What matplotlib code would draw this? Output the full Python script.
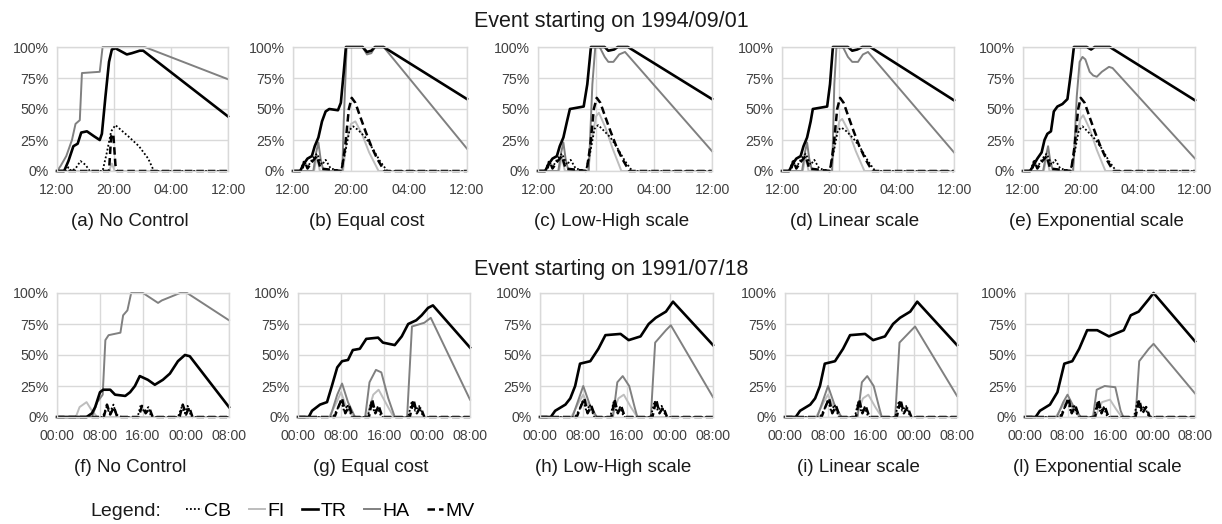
import matplotlib
matplotlib.use("Agg")
import matplotlib.pyplot as plt
from matplotlib.lines import Line2D

plt.rcParams['font.family'] = ['Liberation Sans', 'DejaVu Sans']

# ---- data: (hour since start, percent) pairs ----
# top row: event starting 1994/09/01, 12:00 -> 12:00 (24 h)
top_ticks = [0, 8, 16, 24]
top_labels = ['12:00', '20:00', '04:00', '12:00']
# bottom row: event starting 1991/07/18, 00:00 -> 08:00 (32 h)
bot_ticks = [0, 8, 16, 24, 32]
bot_labels = ['00:00', '08:00', '16:00', '00:00', '08:00']

# (a) No Control
a_cb = [(0, 0), (1.2, 0), (1.6, 3), (2.0, 0), (2.6, 2), (3.3, 8), (4.0, 5), (4.6, 0), (6.4, 0), (7.0, 15),
        (7.6, 32), (8.2, 37), (9.0, 33), (10.0, 28), (11.5, 20), (12.8, 10), (13.6, 0), (24, 0)]
a_fi = [(0, 0), (7.3, 0), (7.7, 6), (8.1, 0), (24, 0)]
a_tr = [(0, 0), (1.0, 0), (1.6, 8), (2.3, 20), (2.9, 22), (3.4, 31), (4.2, 32), (5.2, 28), (6.0, 25), (6.3, 30),
        (6.8, 60), (7.3, 88), (7.7, 98), (8.2, 99), (9.8, 94), (10.5, 95), (11.6, 97), (12.1, 97), (24, 44)]
a_ha = [(0, 0), (0.5, 4), (1.3, 12), (2.1, 25), (2.6, 38), (3.2, 41), (3.5, 79), (6.0, 80), (6.4, 100),
        (12.3, 100), (24, 74)]
a_mv = [(0, 0), (7.3, 0), (7.6, 28), (7.9, 30), (8.2, 5), (8.4, 0), (24, 0)]

# (b) Equal cost
b_cb = [(0, 0), (1.0, 0), (1.5, 8), (2.0, 3), (2.7, 10), (3.3, 14), (4.0, 5), (4.5, 9), (5.2, 2), (6.6, 0),
        (7.2, 15), (7.8, 33), (8.3, 36), (9.0, 33), (10.0, 27), (11.0, 18), (12.0, 8), (13.0, 0), (24, 0)]
b_fi = [(0, 0), (2.9, 0), (3.3, 12), (3.7, 0), (6.9, 0), (7.4, 25), (8.0, 38), (8.6, 40), (9.5, 30),
        (10.5, 15), (11.8, 0), (24, 0)]
b_tr = [(0, 0), (1.0, 0), (1.4, 5), (2.0, 10), (2.6, 12), (3.0, 20), (3.5, 27), (4.0, 40), (4.5, 48),
        (5.0, 50), (6.2, 49), (6.6, 55), (7.0, 80), (7.3, 100), (9.6, 100), (10.2, 96), (10.8, 97),
        (11.3, 100), (12.5, 100), (24, 58)]
b_ha = [(0, 0), (2.8, 0), (3.2, 15), (3.5, 23), (3.8, 10), (4.2, 0), (6.8, 0), (7.0, 40), (7.4, 100),
        (9.6, 100), (10.2, 94), (10.8, 95), (11.3, 100), (12.5, 100), (24, 18)]
b_mv = [(0, 0), (1.2, 0), (1.6, 8), (2.0, 2), (2.7, 8), (3.3, 12), (3.8, 2), (6.7, 0), (7.2, 20), (7.7, 50),
        (8.1, 59), (8.6, 55), (9.2, 45), (10.0, 32), (10.8, 20), (11.6, 10), (12.6, 0), (24, 0)]

# (c) Low-High scale
c_cb = [(0, 0), (1.0, 0), (1.5, 8), (2.0, 3), (2.7, 10), (3.3, 14), (4.0, 5), (4.5, 9), (5.2, 2), (6.6, 0),
        (7.2, 15), (7.8, 34), (8.3, 37), (9.0, 33), (10.0, 27), (11.0, 18), (12.0, 8), (13.0, 0), (24, 0)]
c_fi = [(0, 0), (2.9, 0), (3.3, 12), (3.7, 0), (6.9, 0), (7.4, 25), (8.0, 44), (8.4, 47), (9.3, 35),
        (10.3, 18), (11.5, 0), (24, 0)]
c_tr = [(0, 0), (1.0, 0), (1.4, 5), (2.0, 10), (2.6, 12), (3.0, 20), (3.5, 27), (4.0, 40), (4.4, 50),
        (6.3, 52), (6.8, 70), (7.3, 100), (9.2, 100), (9.7, 97), (10.5, 98), (11.0, 100), (12.4, 100), (24, 58)]
c_ha = [(0, 0), (2.8, 0), (3.2, 15), (3.5, 23), (3.8, 10), (4.2, 0), (7.0, 0), (7.5, 70), (7.9, 100),
        (8.5, 100), (9.2, 92), (9.7, 88), (10.4, 88), (11.2, 94), (12.0, 96), (24, 16)]
c_mv = [(0, 0), (1.2, 0), (1.6, 8), (2.0, 2), (2.7, 8), (3.3, 12), (3.8, 2), (6.7, 0), (7.2, 20), (7.7, 50),
        (8.1, 59), (8.6, 55), (9.2, 45), (10.0, 32), (10.8, 20), (11.6, 10), (12.6, 0), (24, 0)]

# (d) Linear scale
d_cb = [(0, 0), (1.0, 0), (1.5, 8), (2.0, 3), (2.7, 10), (3.3, 14), (4.0, 5), (4.5, 9), (5.2, 2), (6.6, 0),
        (7.2, 15), (7.8, 33), (8.3, 35), (9.0, 32), (10.0, 26), (11.0, 18), (12.0, 8), (13.0, 0), (24, 0)]
d_fi = [(0, 0), (2.9, 0), (3.3, 12), (3.7, 0), (6.9, 0), (7.4, 25), (8.0, 40), (8.4, 42), (9.3, 32),
        (10.3, 16), (11.5, 0), (24, 0)]
d_tr = [(0, 0), (1.0, 0), (1.4, 5), (2.0, 10), (2.6, 12), (3.0, 20), (3.5, 27), (4.0, 40), (4.3, 50),
        (6.3, 52), (6.7, 70), (7.1, 100), (9.2, 100), (9.8, 97), (10.5, 98), (11.2, 100), (12.3, 100), (24, 57)]
d_ha = [(0, 0), (2.8, 0), (3.2, 15), (3.5, 23), (3.8, 10), (4.2, 0), (7.0, 0), (7.3, 70), (7.6, 100),
        (8.5, 100), (9.2, 92), (9.8, 88), (10.6, 88), (11.3, 94), (12.0, 96), (24, 15)]
d_mv = [(0, 0), (1.2, 0), (1.6, 8), (2.0, 2), (2.7, 8), (3.3, 12), (3.8, 2), (6.7, 0), (7.2, 20), (7.7, 50),
        (8.1, 59), (8.6, 55), (9.2, 45), (10.0, 32), (10.8, 20), (11.6, 10), (12.6, 0), (24, 0)]

# (e) Exponential scale
e_cb = [(0, 0), (1.0, 0), (1.5, 8), (2.0, 3), (2.7, 10), (3.3, 14), (4.0, 5), (4.5, 9), (5.2, 2), (6.6, 0),
        (7.2, 15), (7.8, 33), (8.3, 36), (9.0, 32), (10.0, 26), (11.0, 18), (12.0, 8), (13.0, 0), (24, 0)]
e_fi = [(0, 0), (2.9, 0), (3.3, 12), (3.7, 0), (6.9, 0), (7.4, 25), (8.0, 42), (8.4, 45), (9.3, 34),
        (10.3, 17), (11.5, 0), (24, 0)]
e_tr = [(0, 0), (1.0, 0), (1.5, 5), (2.0, 10), (2.6, 15), (3.0, 25), (3.4, 30), (3.9, 32), (4.3, 48),
        (4.8, 52), (5.5, 54), (6.2, 58), (6.7, 80), (7.1, 100), (8.9, 100), (9.5, 98), (10.0, 100),
        (12.1, 100), (24, 57)]
e_ha = [(0, 0), (2.8, 0), (3.2, 12), (3.5, 20), (3.8, 8), (4.2, 0), (7.0, 0), (7.5, 60), (7.9, 88),
        (8.3, 92), (8.7, 90), (9.3, 80), (9.8, 77), (10.3, 76), (11.0, 80), (12.0, 84), (12.5, 83), (24, 10)]
e_mv = [(0, 0), (1.2, 0), (1.6, 8), (2.0, 2), (2.7, 8), (3.3, 12), (3.8, 2), (6.7, 0), (7.2, 20), (7.7, 50),
        (8.05, 59), (8.6, 55), (9.2, 45), (10.0, 32), (10.8, 20), (11.6, 10), (12.6, 0), (24, 0)]

# (f) No Control
f_cb = [(0, 0), (8.5, 0), (9.2, 8), (9.8, 3), (10.5, 10), (11.0, 2), (12.0, 0), (15.0, 0), (15.6, 10),
        (16.2, 4), (17.0, 8), (17.5, 0), (22.5, 0), (23.2, 8), (23.8, 3), (24.3, 9), (25.0, 0), (32, 0)]
f_fi = [(0, 0), (3.5, 0), (4.2, 8), (5.5, 12), (6.5, 5), (7.5, 0), (32, 0)]
f_tr = [(0, 0), (5.5, 0), (6.5, 3), (7.1, 8), (8.0, 20), (8.6, 22), (9.9, 22), (10.8, 18), (12.7, 17),
        (13.6, 20), (14.5, 25), (15.4, 33), (16.9, 30), (18.2, 26), (19.7, 30), (21.0, 35), (22.5, 45),
        (23.8, 50), (24.7, 49), (32, 8)]
f_ha = [(0, 0), (6.5, 0), (7.5, 12), (8.5, 18), (9.0, 62), (9.6, 66), (11.8, 68), (12.3, 82), (13.1, 86),
        (13.8, 100), (16.0, 100), (18.8, 92), (19.5, 94), (22.9, 100), (24.2, 100), (32, 78)]
f_mv = [(0, 0), (8.7, 0), (9.3, 10), (9.9, 2), (10.6, 8), (11.2, 0), (15.2, 0), (15.8, 9), (16.5, 3),
        (17.2, 7), (17.8, 0), (22.8, 0), (23.4, 10), (24.0, 2), (24.6, 8), (25.2, 0), (32, 0)]

# (g) Equal cost
g_cb = [(0, 0), (6.5, 0), (7.3, 6), (8.0, 14), (8.6, 4), (9.2, 10), (10.0, 0), (13.0, 0), (13.6, 12),
        (14.2, 4), (14.8, 8), (15.5, 0), (20.5, 0), (21.2, 13), (21.8, 5), (22.5, 9), (23.3, 0), (32, 0)]
g_fi = [(0, 0), (5.8, 0), (7.2, 12), (8.0, 20), (9.0, 8), (10.3, 0), (12.8, 0), (14.0, 18), (15.0, 22),
        (16.5, 10), (17.8, 0), (32, 0)]
g_tr = [(0, 0), (2.0, 0), (2.6, 5), (4.1, 10), (5.4, 12), (6.3, 25), (7.3, 40), (8.2, 45), (9.3, 46),
        (10.2, 54), (11.5, 55), (12.7, 63), (14.9, 64), (15.8, 60), (18.0, 58), (19.3, 65), (20.5, 75),
        (22.0, 78), (23.0, 82), (24.2, 88), (25.1, 90), (32, 56)]
g_ha = [(0, 0), (6.0, 0), (7.3, 18), (8.2, 27), (9.3, 12), (10.6, 0), (12.5, 0), (13.3, 28), (14.5, 38),
        (15.5, 36), (16.8, 15), (18.0, 0), (20.3, 0), (21.2, 73), (23.5, 76), (24.7, 80), (32, 14)]
g_mv = [(0, 0), (6.8, 0), (7.5, 8), (8.2, 15), (8.8, 3), (9.5, 9), (10.2, 0), (13.2, 0), (13.8, 14),
        (14.4, 3), (15.0, 9), (15.7, 0), (20.8, 0), (21.5, 14), (22.1, 3), (22.8, 8), (23.5, 0), (32, 0)]

# (h) Low-High scale
h_cb = g_cb
h_fi = [(0, 0), (5.8, 0), (7.2, 12), (8.0, 18), (9.0, 8), (10.3, 0), (13.2, 0), (14.5, 15), (15.5, 18),
        (16.8, 8), (18.0, 0), (32, 0)]
h_tr = [(0, 0), (2.0, 0), (2.8, 5), (4.7, 10), (5.6, 15), (6.5, 25), (7.4, 43), (9.3, 45), (10.8, 55),
        (12.1, 66), (14.9, 67), (16.4, 62), (18.6, 65), (20.1, 75), (21.4, 80), (23.3, 85), (24.6, 93), (32, 58)]
h_ha = [(0, 0), (6.0, 0), (7.2, 15), (8.0, 25), (9.2, 10), (10.5, 0), (13.5, 0), (14.3, 28), (15.3, 33),
        (16.5, 25), (17.5, 8), (18.0, 0), (20.5, 0), (21.3, 60), (23.3, 70), (24.2, 74), (32, 16)]
h_mv = g_mv

# (i) Linear scale
i_cb = g_cb
i_fi = h_fi
i_tr = [(0, 0), (2.0, 0), (2.8, 5), (4.7, 10), (5.6, 15), (6.5, 25), (7.4, 43), (9.3, 45), (10.8, 55),
        (12.1, 66), (14.9, 67), (16.4, 62), (18.6, 65), (20.1, 75), (21.4, 80), (23.3, 85), (24.6, 93), (32, 58)]
i_ha = [(0, 0), (6.0, 0), (7.2, 15), (8.0, 25), (9.2, 10), (10.5, 0), (13.5, 0), (14.3, 28), (15.3, 33),
        (16.5, 25), (17.5, 8), (18.0, 0), (20.5, 0), (21.3, 60), (23.3, 69), (24.2, 73), (32, 17)]
i_mv = g_mv

# (l) Exponential scale
l_cb = g_cb
l_fi = [(0, 0), (5.8, 0), (7.2, 10), (8.0, 14), (9.0, 6), (10.3, 0), (13.2, 0), (14.5, 12), (16.0, 14),
        (17.2, 6), (18.2, 0), (32, 0)]
l_tr = [(0, 0), (2.0, 0), (2.8, 5), (4.7, 10), (6.1, 20), (7.4, 43), (8.9, 45), (10.2, 55), (11.7, 70),
        (13.6, 70), (15.8, 65), (18.6, 70), (19.9, 82), (21.4, 85), (23.3, 95), (24.2, 100), (32, 61)]
l_ha = [(0, 0), (6.0, 0), (7.2, 12), (8.0, 18), (9.2, 8), (10.5, 0), (12.8, 0), (13.5, 22), (15.0, 25),
        (17.0, 24), (18.0, 5), (18.5, 0), (20.8, 0), (21.5, 45), (23.3, 55), (24.2, 59), (32, 19)]
l_mv = g_mv

top_panels = [
    ('(a) No Control', a_cb, a_fi, a_tr, a_ha, a_mv),
    ('(b) Equal cost', b_cb, b_fi, b_tr, b_ha, b_mv),
    ('(c) Low-High scale', c_cb, c_fi, c_tr, c_ha, c_mv),
    ('(d) Linear scale', d_cb, d_fi, d_tr, d_ha, d_mv),
    ('(e) Exponential scale', e_cb, e_fi, e_tr, e_ha, e_mv),
]
bot_panels = [
    ('(f) No Control', f_cb, f_fi, f_tr, f_ha, f_mv),
    ('(g) Equal cost', g_cb, g_fi, g_tr, g_ha, g_mv),
    ('(h) Low-High scale', h_cb, h_fi, h_tr, h_ha, h_mv),
    ('(i) Linear scale', i_cb, i_fi, i_tr, i_ha, i_mv),
    ('(l) Exponential scale', l_cb, l_fi, l_tr, l_ha, l_mv),
]

# ---- styles ----
W, H = 1222, 524
STY = {
    'CB': dict(color='black', lw=1.3, ls=(0, (1, 1.2))),
    'FI': dict(color='#bdbdbd', lw=1.4, ls='-'),
    'TR': dict(color='black', lw=1.9, ls='-'),
    'HA': dict(color='#808080', lw=1.4, ls='-'),
    'MV': dict(color='black', lw=1.8, ls=(0, (3, 1.6))),
}
GRID = '#d9d9d9'
TICKC = '#404040'


def draw_panel(fig, rect, panel, ticks, labels):
    name, cb, fi, tr, ha, mv = panel
    x0, y0, w, h = rect
    ax = fig.add_axes([x0 / W, 1 - (y0 + h) / H, w / W, h / H])
    for key, pts in (('FI', fi), ('HA', ha), ('CB', cb), ('MV', mv), ('TR', tr)):
        t, v = zip(*pts)
        ax.plot(t, v, clip_on=False, solid_joinstyle='round', **STY[key])
    ax.set_xlim(ticks[0], ticks[-1])
    ax.set_ylim(0, 100)
    ax.set_xticks(ticks)
    ax.set_xticklabels(labels)
    ax.set_yticks([0, 25, 50, 75, 100])
    ax.set_yticklabels(['0%', '25%', '50%', '75%', '100%'])
    ax.tick_params(length=0, labelsize=10.2, labelcolor=TICKC)
    ax.tick_params(axis='x', pad=9)
    ax.tick_params(axis='y', pad=6)
    ax.grid(True, color=GRID, lw=1.0)
    ax.set_axisbelow(True)
    for s in ax.spines.values():
        s.set_color(GRID)
        s.set_linewidth(1.0)
    # panel caption, centred under axes + tick labels
    fig.text((x0 + w / 2 - 13) / W, 1 - (y0 + h + 50) / H, name,
             ha='center', va='center', fontsize=13.5, color='#1a1a1a')
    return ax


fig = plt.figure(figsize=(W / 100, H / 100), dpi=100)

top_rects = [(57, 47, 171, 124), (293, 47, 174, 124), (538, 47, 174, 124),
             (782, 47, 172, 124), (1023, 47, 172, 124)]
bot_rects = [(57, 293, 172, 124), (298, 293, 172, 124), (540, 293, 173, 124),
             (785, 293, 172, 124), (1025, 293, 170, 124)]

for r, p in zip(top_rects, top_panels):
    draw_panel(fig, r, p, top_ticks, top_labels)
for r, p in zip(bot_rects, bot_panels):
    draw_panel(fig, r, p, bot_ticks, bot_labels)

fig.text(0.5, 1 - 21 / H, 'Event starting on 1994/09/01', ha='center', va='center',
         fontsize=15.5, color='#1a1a1a')
fig.text(0.5, 1 - 270 / H, 'Event starting on 1991/07/18', ha='center', va='center',
         fontsize=15.5, color='#1a1a1a')

# legend
fig.text(90 / W, 1 - 511 / H, 'Legend:', ha='left', va='center', fontsize=14, color='#1a1a1a')
handles = [Line2D([], [], **STY[k]) for k in ['CB', 'FI', 'TR', 'HA', 'MV']]
fig.legend(handles, ['CB', 'FI', 'TR', 'HA', 'MV'], loc='center left',
           bbox_to_anchor=(186 / W, 1 - 511 / H), ncol=5, frameon=False, fontsize=14,
           handlelength=0.8, handletextpad=0.15, columnspacing=0.9,
           borderpad=0, borderaxespad=0)

fig.savefig('out.png', dpi=100)
